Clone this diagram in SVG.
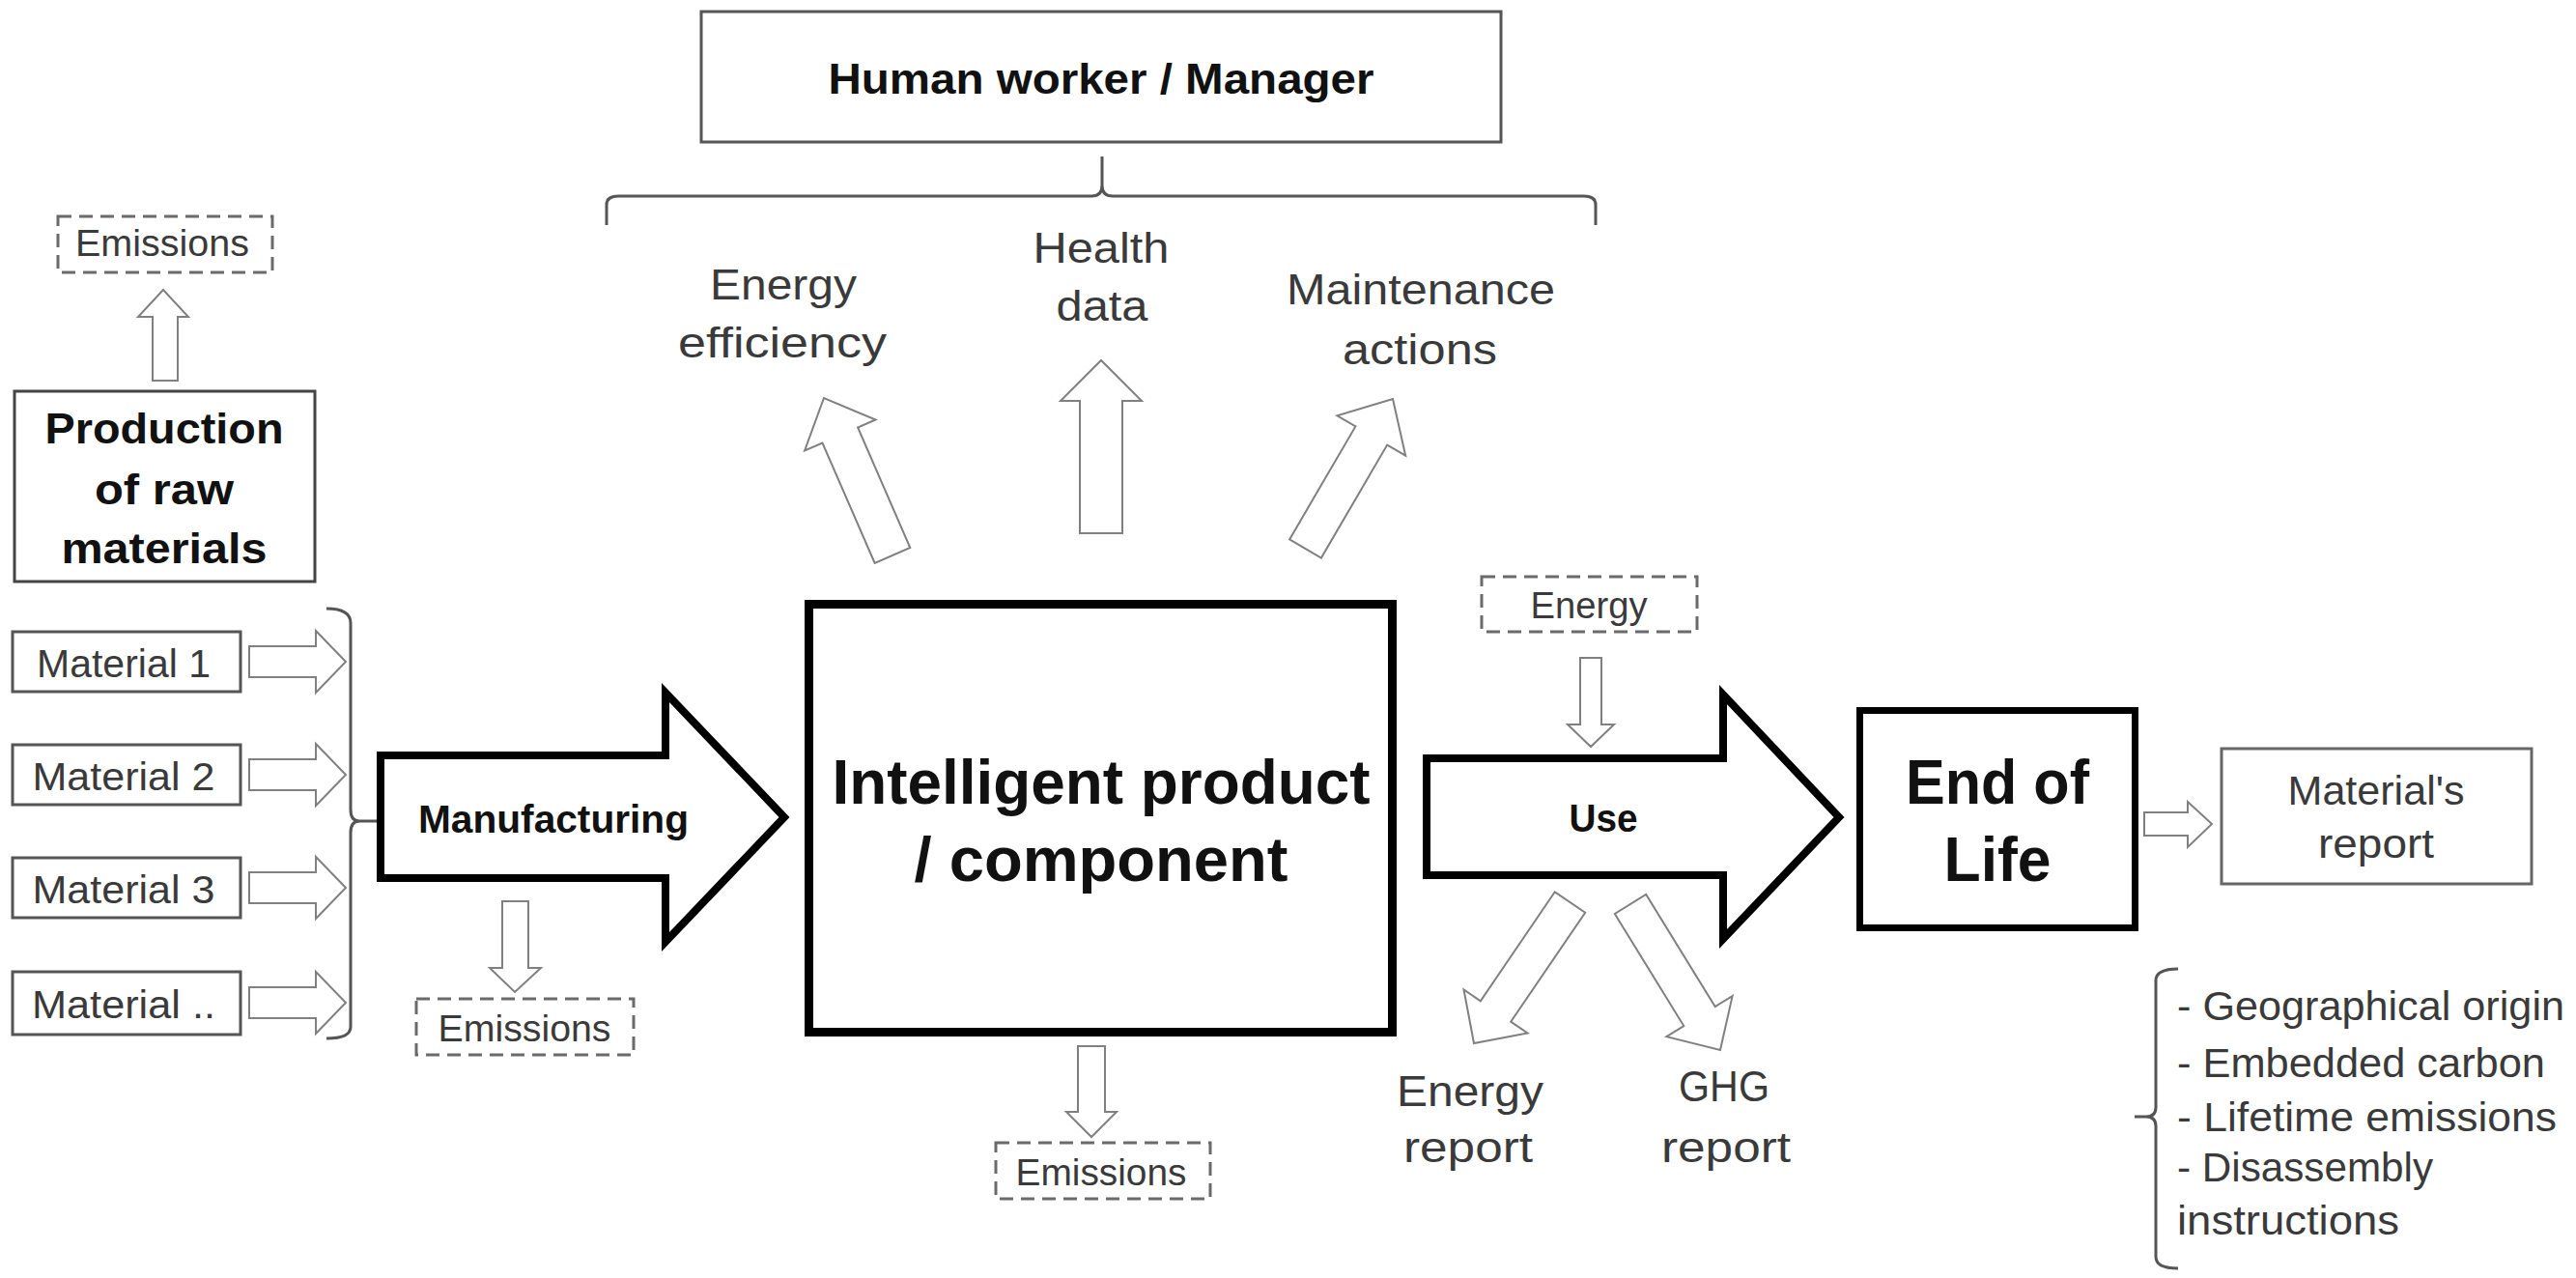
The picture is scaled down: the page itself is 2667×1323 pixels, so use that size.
<svg xmlns="http://www.w3.org/2000/svg" width="2667" height="1323" viewBox="0 0 2667 1323">
<style>
text{font-family:"Liberation Sans",Arial,sans-serif;text-anchor:middle}
.r{font-weight:400;fill:#3a3a3a}
.b{font-weight:700;fill:#111}
.box{fill:#fff;stroke:#555;stroke-width:3}
.dash{fill:#fff;stroke:#6a6a6a;stroke-width:3;stroke-dasharray:14 8}
.thick{fill:#fff;stroke:#000;stroke-width:8;stroke-linejoin:miter}
.la{fill:#fff;stroke:#808080;stroke-width:2;stroke-linejoin:miter}
.br{fill:none;stroke:#555;stroke-width:3}
</style>
<rect width="2667" height="1323" fill="#fff"/>

<g id="connectors">
  <polygon class="la" points="158,394 158,328 143,328 169,300 195,328 184,328 184,394"/>
  <polygon class="la" points="258,669 327,669 327,653 358,685 327,717 327,701 258,701"/>
  <polygon class="la" points="258,786 327,786 327,770 358,802 327,834 327,818 258,818"/>
  <polygon class="la" points="258,903 327,903 327,887 358,919 327,951 327,935 258,935"/>
  <polygon class="la" points="258,1022 327,1022 327,1006 358,1038 327,1070 327,1054 258,1054"/>
  <path class="br" d="M338,630 Q363,630 363,645 L363,838 Q363,850 372,850 Q363,850 363,862 L363,1063 Q363,1075 338,1075 M372,850 L394,850"/>
  <polygon class="la" points="520,933 547,933 547,1002 560,1002 533,1027 507,1002 520,1002"/>
  <polygon class="la" points="1116,1083 1144,1083 1144,1151 1156,1151 1130,1177 1104,1151 1116,1151"/>
  <polygon class="la" points="1636,681 1658,681 1658,750 1671,750 1647,773 1623,750 1636,750"/>
  <polygon class="la" points="1118,552 1118,415 1098,415 1140,373 1182,415 1162,415 1162,552"/>
  <polygon class="la" points="905.7,583 851.5,458.5 833.1,466.5 853,412 906.5,434.5 888.1,442.5 942.3,567"/>
  <polygon class="la" points="1335.1,558.4 1403.4,441.4 1384.4,430.3 1442,413 1455.2,471.7 1436.2,460.6 1367.9,577.6"/>
  <polygon class="la" points="1609.8,923.3 1532.8,1036.3 1515.5,1024.5 1526,1080 1581.5,1069.5 1564.2,1057.7 1641.2,944.7"/>
  <polygon class="la" points="1671.8,946 1743.3,1062.1 1725.4,1073.1 1781,1087 1793.6,1031.1 1775.7,1042.1 1704.2,926"/>
  <polygon class="la" points="2220,841 2265,841 2265,830 2290,853 2265,877 2265,865 2220,865"/>
  <path class="br" d="M628,233 L628,212 Q628,203 640,203 L1130,203 Q1141,203 1141,192 L1141,162 M1141,192 Q1141,203 1152,203 L1640,203 Q1652,203 1652,212 L1652,233"/>
  <path class="br" d="M2255,1003 Q2232,1003 2232,1015 L2232,1146 Q2232,1156 2222,1156 Q2232,1156 2232,1166 L2232,1301 Q2232,1313 2255,1313 M2222,1156 L2210,1156"/>
</g>

<g id="human">
  <rect class="box" x="726" y="12" width="828" height="135"/>
  <text class="b" x="1140" y="97" font-size="44" textLength="565" lengthAdjust="spacingAndGlyphs">Human worker / Manager</text>
</g>
<g id="energy-efficiency">
  <text class="r" x="811" y="310" font-size="44" textLength="152" lengthAdjust="spacingAndGlyphs">Energy</text>
  <text class="r" x="810" y="370" font-size="44" textLength="216" lengthAdjust="spacingAndGlyphs">efficiency</text>
</g>
<g id="health-data">
  <text class="r" x="1140" y="272" font-size="44" textLength="141" lengthAdjust="spacingAndGlyphs">Health</text>
  <text class="r" x="1141" y="332" font-size="44" textLength="95" lengthAdjust="spacingAndGlyphs">data</text>
</g>
<g id="maintenance">
  <text class="r" x="1471" y="315" font-size="44" textLength="278" lengthAdjust="spacingAndGlyphs">Maintenance</text>
  <text class="r" x="1470" y="377" font-size="44" textLength="160" lengthAdjust="spacingAndGlyphs">actions</text>
</g>
<g id="emissions-raw">
  <rect class="dash" x="60" y="224" width="222" height="58"/>
  <text class="r" x="168" y="265" font-size="38" textLength="180" lengthAdjust="spacingAndGlyphs">Emissions</text>
</g>
<g id="production">
  <rect class="box" x="15" y="405" width="311" height="197" style="stroke:#444"/>
  <text class="b" x="170" y="459" font-size="44" textLength="247" lengthAdjust="spacingAndGlyphs">Production</text>
  <text class="b" x="170" y="522" font-size="44" textLength="144" lengthAdjust="spacingAndGlyphs">of raw</text>
  <text class="b" x="170" y="583" font-size="44" textLength="213" lengthAdjust="spacingAndGlyphs">materials</text>
</g>
<g id="material1">
  <rect class="box" x="13" y="654" width="236" height="62"/>
  <text class="r" x="128" y="701" font-size="41" textLength="180" lengthAdjust="spacingAndGlyphs">Material 1</text>
</g>
<g id="material2">
  <rect class="box" x="13" y="771" width="236" height="62"/>
  <text class="r" x="128" y="818" font-size="41" textLength="189" lengthAdjust="spacingAndGlyphs">Material 2</text>
</g>
<g id="material3">
  <rect class="box" x="13" y="888" width="236" height="62"/>
  <text class="r" x="128" y="935" font-size="41" textLength="189" lengthAdjust="spacingAndGlyphs">Material 3</text>
</g>
<g id="material-n">
  <rect class="box" x="13" y="1006" width="236" height="65"/>
  <text class="r" x="128" y="1054" font-size="41" textLength="190" lengthAdjust="spacingAndGlyphs">Material ..</text>
</g>
<g id="manufacturing">
  <polygon class="thick" points="394,782 689,782 689,717 812,846 689,975 689,909 394,909"/>
  <text class="b" x="573" y="862" font-size="41" textLength="280" lengthAdjust="spacingAndGlyphs">Manufacturing</text>
</g>
<g id="emissions-manufacturing">
  <rect class="dash" x="431" y="1034" width="225" height="58"/>
  <text class="r" x="543" y="1078" font-size="38" textLength="179" lengthAdjust="spacingAndGlyphs">Emissions</text>
</g>
<g id="intelligent-product">
  <rect class="thick" x="837.5" y="625.5" width="604" height="443" style="stroke-width:9"/>
  <text class="b" x="1140" y="832" font-size="64" textLength="557" lengthAdjust="spacingAndGlyphs">Intelligent product</text>
  <text class="b" x="1140" y="912" font-size="64" textLength="387" lengthAdjust="spacingAndGlyphs">/ component</text>
</g>
<g id="emissions-product">
  <rect class="dash" x="1031" y="1183" width="222" height="58"/>
  <text class="r" x="1140" y="1227" font-size="38" textLength="177" lengthAdjust="spacingAndGlyphs">Emissions</text>
</g>
<g id="energy-input">
  <rect class="dash" x="1534" y="597" width="223" height="57"/>
  <text class="r" x="1645" y="640" font-size="38" textLength="121" lengthAdjust="spacingAndGlyphs">Energy</text>
</g>
<g id="use">
  <polygon class="thick" points="1477,785 1784,785 1784,719 1904,846 1784,972 1784,906 1477,906"/>
  <text class="b" x="1660" y="861" font-size="40" textLength="71" lengthAdjust="spacingAndGlyphs">Use</text>
</g>
<g id="energy-report">
  <text class="r" x="1522" y="1145" font-size="44" textLength="152" lengthAdjust="spacingAndGlyphs">Energy</text>
  <text class="r" x="1520" y="1203" font-size="44" textLength="134" lengthAdjust="spacingAndGlyphs">report</text>
</g>
<g id="ghg-report">
  <text class="r" x="1785" y="1140" font-size="44" textLength="94" lengthAdjust="spacingAndGlyphs">GHG</text>
  <text class="r" x="1787" y="1203" font-size="44" textLength="134" lengthAdjust="spacingAndGlyphs">report</text>
</g>
<g id="end-of-life">
  <rect class="thick" x="1925.5" y="735.5" width="285" height="225" style="stroke-width:7"/>
  <text class="b" x="2068" y="832" font-size="64" textLength="190" lengthAdjust="spacingAndGlyphs">End of</text>
  <text class="b" x="2068" y="912" font-size="64" textLength="111" lengthAdjust="spacingAndGlyphs">Life</text>
</g>
<g id="materials-report">
  <rect class="box" x="2300" y="775" width="321" height="140" style="stroke:#666"/>
  <text class="r" x="2460" y="833" font-size="43" textLength="183" lengthAdjust="spacingAndGlyphs">Material's</text>
  <text class="r" x="2460" y="888" font-size="43" textLength="120" lengthAdjust="spacingAndGlyphs">report</text>
</g>
<g id="report-contents">
  <text class="r" x="2254" y="1056" font-size="42" style="text-anchor:start" textLength="401" lengthAdjust="spacingAndGlyphs">- Geographical origin</text>
  <text class="r" x="2254" y="1115" font-size="42" style="text-anchor:start" textLength="381" lengthAdjust="spacingAndGlyphs">- Embedded  carbon</text>
  <text class="r" x="2254" y="1171" font-size="42" style="text-anchor:start" textLength="393" lengthAdjust="spacingAndGlyphs">- Lifetime  emissions</text>
  <text class="r" x="2254" y="1223" font-size="42" style="text-anchor:start" textLength="265" lengthAdjust="spacingAndGlyphs">- Disassembly</text>
  <text class="r" x="2254" y="1278" font-size="42" style="text-anchor:start" textLength="230" lengthAdjust="spacingAndGlyphs">instructions</text>
</g>
</svg>
